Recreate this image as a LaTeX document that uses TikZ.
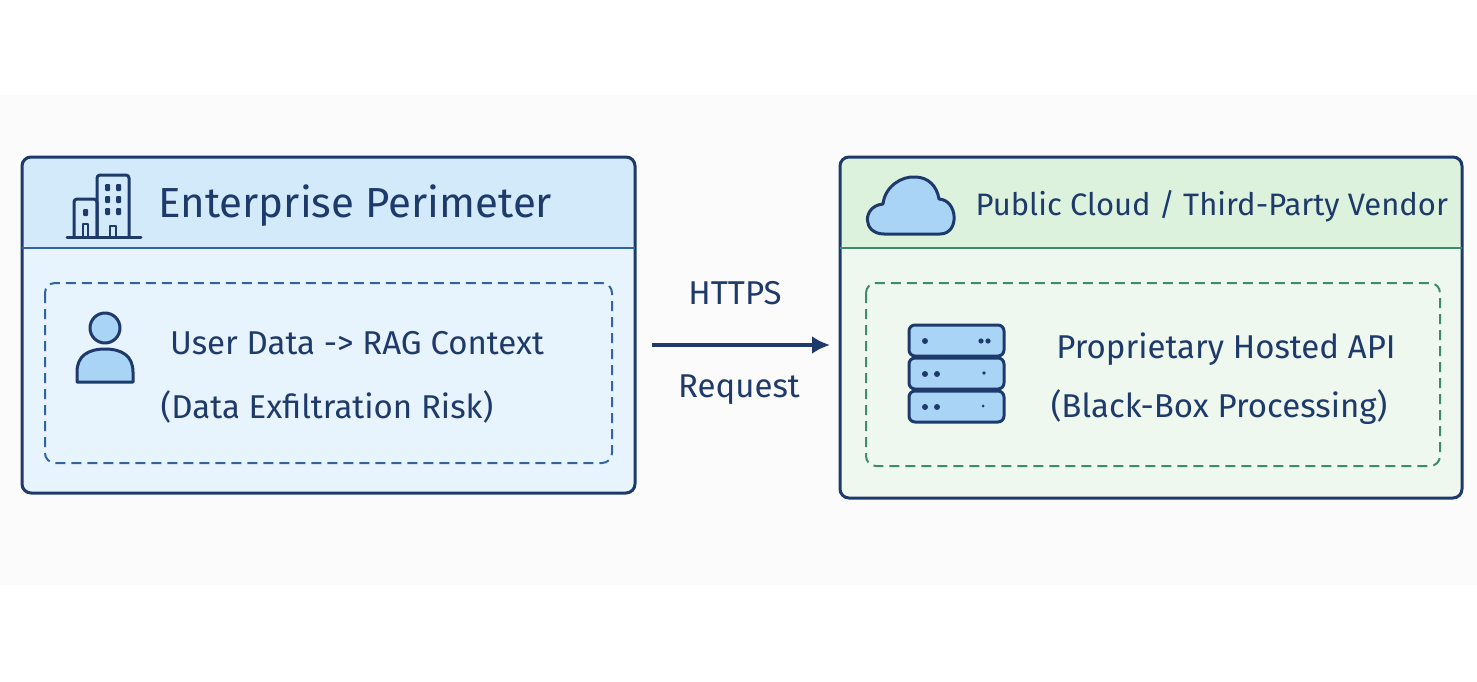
\documentclass[tikz,border=0pt]{standalone}
\usepackage{fontspec}
\usetikzlibrary{arrows.meta}
\setmainfont{Fira Sans}
\begin{document}
\definecolor{navy}{HTML}{1E3A6B}
\definecolor{lblue}{HTML}{E8F4FD}
\definecolor{hblue}{HTML}{D3EAFA}
\definecolor{lgreen}{HTML}{EFF8EF}
\definecolor{hgreen}{HTML}{DDF2DC}
\definecolor{iblue}{HTML}{A9D4F5}
\definecolor{dashb}{HTML}{2F64A0}
\definecolor{dashg}{HTML}{3E8A6E}
\begin{tikzpicture}[x=1pt,y=-1pt,line join=round,
  frame/.style={draw=navy,line width=3pt,rounded corners=9pt},
  inner/.style={line width=2pt,dash pattern=on 10pt off 6pt,rounded corners=10pt},
  title/.style={text=navy,font=\fontsize{42}{48}\selectfont,anchor=west},
  txt/.style={text=navy,font=\fontsize{33}{38}\selectfont,align=center},
  icon/.style={draw=navy,line width=3pt,fill=iblue}]
\useasboundingbox[fill=white] (0,0) rectangle (1477,682);
\fill[black!1.5] (0,95) rectangle (1477,585);
% left box
\fill[lblue,rounded corners=9pt] (22,157) rectangle (635,493);
\fill[hblue,rounded corners=9pt] (22,157) rectangle (635,248);
\draw[frame] (22,157) rectangle (635,493);
\draw[dashb,line width=2.5pt] (22,248) -- (635,248);
\node[title] (lt) at (155,206) {Enterprise Perimeter};
\draw[inner,draw=dashb] (45,283) rectangle (612,463);
% building icon
\draw[navy,line width=3pt,rounded corners=3pt] (74,236) -- (74,199) -- (97,199) -- (97,236);
\draw[navy,line width=3pt,rounded corners=3pt] (97,236) -- (97,175) -- (129,175) -- (129,236);
\draw[navy,line width=3pt,line cap=round] (67,237) -- (141,237);
\foreach \yy in {184,196,208}{\foreach \xx in {105,116}{\fill[navy,rounded corners=1pt] (\xx,\yy) rectangle ++(5,7);}}
\fill[navy,rounded corners=1pt] (83,209) rectangle ++(5,7);
\draw[navy,line width=2.5pt] (83,236) -- (83,224) -- (88,224) -- (88,236);
\draw[navy,line width=2.5pt] (110,236) -- (110,226) -- (116,226) -- (116,236);
% person icon
\draw[icon] (105,328) circle (15);
\draw[icon] (77,382) -- (77,372) .. controls (77,356) and (88,349) .. (105,349) .. controls (122,349) and (133,356) .. (133,372) -- (133,382) -- cycle;
\node[txt] (ud) at (357,343) {User Data -> RAG Context};
\node[txt] (de) at (327,407) {(Data Exfiltration Risk)};
% right box
\fill[lgreen,rounded corners=9pt] (840,157) rectangle (1462,498);
\fill[hgreen,rounded corners=9pt] (840,157) rectangle (1462,248);
\draw[frame] (840,157) rectangle (1462,498);
\draw[dashg,line width=2.5pt] (840,248) -- (1462,248);
\node[title,font=\fontsize{31}{36}\selectfont] (rt) at (972,206) {Public Cloud / Third-Party Vendor};
\draw[inner,draw=dashg] (866,283) rectangle (1440,466);
% cloud icon
\draw[icon] (884,234) .. controls (862,234) and (862,206) .. (883,204) .. controls (885,186) and (902,176) .. (915,177) .. controls (928,177) and (937,186) .. (939,199) .. controls (958,200) and (960,234) .. (940,234) -- cycle;
% server icon
\foreach \yy in {325,358,391}{
 \draw[icon,rounded corners=6pt] (909,\yy) rectangle (1004,\yy+31);}
\fill[navy] (925,341) circle (3) (981,341) circle (2.6) (988,341) circle (2.6);
\fill[navy] (925,374) circle (3) (937,374) circle (3) (984,373) circle (1.8);
\fill[navy] (925,407) circle (3) (937,407) circle (3) (983,406) circle (1.5);
\node[txt] (ph) at (1226,349) {Proprietary Hosted API};
\node[txt] (bb) at (1219,407) {(Black-Box Processing)};
% arrow
\coordinate (a1) at (652,345);
\coordinate (a2) at (830,345);
\draw[navy,line width=3.5pt,-{Latex[length=18pt,width=18pt]}] (a1) -- (a2);
\node[txt] (h) at (735,293) {HTTPS};
\node[txt] (r) at (739,390) {Request};
\end{tikzpicture}
\end{document}
